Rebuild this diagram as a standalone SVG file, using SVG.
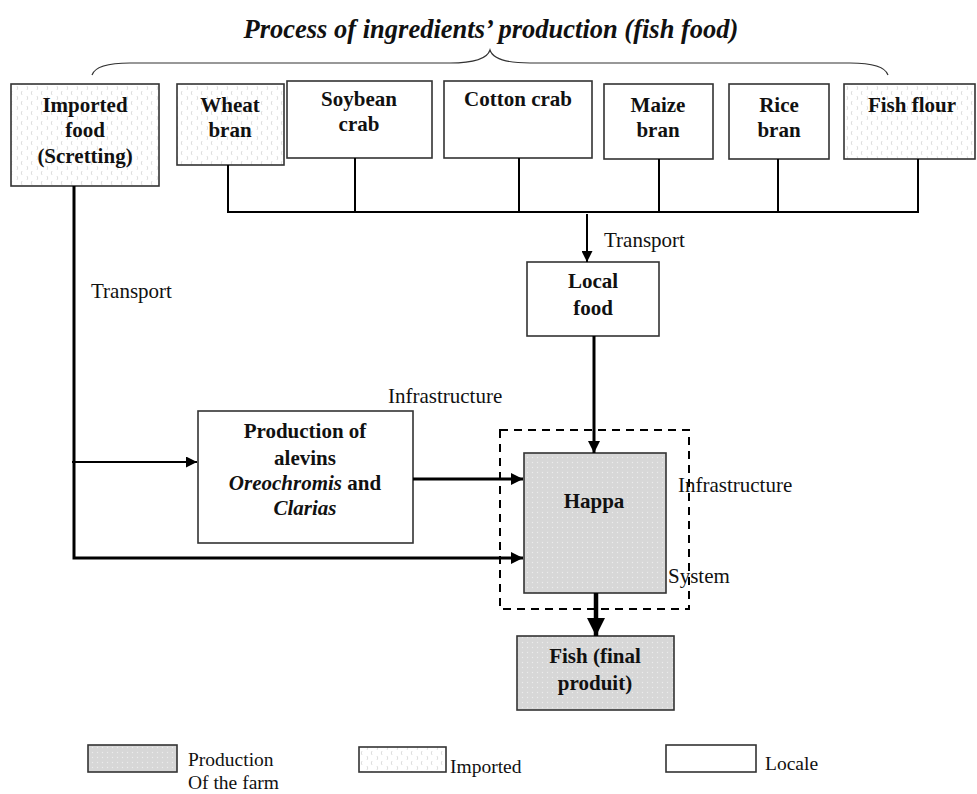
<svg xmlns="http://www.w3.org/2000/svg" width="977" height="794" viewBox="0 0 977 794">
<style>
.box{stroke:#333;stroke-width:1.6}
.loc{fill:#fff}
.imp{fill:url(#impPat)}
.prod{fill:url(#prodPat)}
.bt{font-family:"Liberation Serif","Times New Roman",serif;font-weight:bold;font-size:21px;fill:#111;text-anchor:middle}
.lt{font-family:"Liberation Serif","Times New Roman",serif;font-size:21px;fill:#111}
.lg{font-family:"Liberation Serif","Times New Roman",serif;font-size:19.5px;fill:#111}
.ln{stroke:#000;fill:none}
</style>
<defs>
<pattern id="impPat" width="10" height="10" patternUnits="userSpaceOnUse">
<rect width="10" height="10" fill="#fff"/>
<path d="M2 1 q-1.5 2 0 4 M7 6 q1.5 2 0 4" stroke="#d4d4d4" stroke-width="0.8" fill="none"/>
</pattern>
<pattern id="prodPat" width="5" height="5" patternUnits="userSpaceOnUse">
<rect width="5" height="5" fill="#d7d7d7"/>
<circle cx="2.5" cy="2.5" r="0.7" fill="#ececec"/>
</pattern>
<marker id="ah" viewBox="0 0 10 10" refX="10" refY="5" markerWidth="6" markerHeight="5.5" markerUnits="strokeWidth" orient="auto">
<path d="M0 0 L10 5 L0 10 z" fill="#000"/>
</marker>
<marker id="ah3" viewBox="0 0 10 10" refX="10" refY="5" markerWidth="4" markerHeight="4" markerUnits="strokeWidth" orient="auto">
<path d="M0 0 L10 5 L0 10 z" fill="#000"/>
</marker>
</defs>
<rect width="977" height="794" fill="#fff"/>

<text x="491" y="38" text-anchor="middle" font-family="Liberation Serif, Times New Roman, serif" font-weight="bold" font-style="italic" font-size="26.5" fill="#111">Process of ingredients’ production (fish food)</text>
<path d="M92 75 Q96 63 130 63 L450 63 Q486 63 490 50 Q494 63 530 63 L850 63 Q884 63 888 75" fill="none" stroke="#333" stroke-width="1.2"/>

<g id="imported-food"><rect class="box imp" x="11" y="84" width="148" height="102"/>
<text class="bt" x="85" y="112">Imported</text><text class="bt" x="85" y="137">food</text><text class="bt" x="85" y="163">(Scretting)</text></g>
<g id="wheat-bran"><rect class="box imp" x="177" y="84" width="107" height="81"/>
<text class="bt" x="230" y="112">Wheat</text><text class="bt" x="230" y="137">bran</text></g>
<g id="soybean-crab"><rect class="box loc" x="287" y="81" width="145" height="77"/>
<text class="bt" x="359" y="106">Soybean</text><text class="bt" x="359" y="131">crab</text></g>
<g id="cotton-crab"><rect class="box loc" x="444" y="81" width="148" height="77"/>
<text class="bt" x="518" y="106">Cotton crab</text></g>
<g id="maize-bran"><rect class="box loc" x="604" y="84" width="109" height="75"/>
<text class="bt" x="658" y="112">Maize</text><text class="bt" x="658" y="137">bran</text></g>
<g id="rice-bran"><rect class="box loc" x="729" y="84" width="100" height="75"/>
<text class="bt" x="779" y="112">Rice</text><text class="bt" x="779" y="137">bran</text></g>
<g id="fish-flour"><rect class="box imp" x="844" y="84" width="131" height="75"/>
<text class="bt" x="912" y="112">Fish flour</text></g>

<g id="local-food"><rect class="box loc" x="527" y="262" width="132" height="74"/>
<text class="bt" x="593" y="288">Local</text><text class="bt" x="593" y="315">food</text></g>

<g id="production-alevins"><rect class="box loc" x="198" y="411" width="215" height="132"/>
<text class="bt" x="305" y="438">Production of</text><text class="bt" x="305" y="465">alevins</text>
<text class="bt" x="305" y="490"><tspan font-style="italic">Oreochromis</tspan> and</text>
<text class="bt" x="305" y="515" font-style="italic">Clarias</text></g>

<g id="system"><rect x="500" y="430" width="189" height="179" fill="none" stroke="#000" stroke-width="2" stroke-dasharray="8,6"/></g>

<g id="happa"><rect class="box prod" x="524" y="453" width="142" height="140"/>
<text class="bt" x="594" y="508">Happa</text></g>

<g id="fish"><rect class="box prod" x="517" y="636" width="157" height="74"/>
<text class="bt" x="595" y="663">Fish (final</text><text class="bt" x="595" y="690">produit)</text></g>

<g id="connectors">
<path class="ln" stroke-width="2" d="M228 165 V212 M355 158 V212 M519 158 V212 M659 159 V212 M778 159 V212 M918 159 V212 M227 212 H919"/>
<path class="ln" stroke-width="2" d="M587 214 V262" marker-end="url(#ah)"/>
<path class="ln" stroke-width="3" d="M594 336 V453" marker-end="url(#ah3)"/>
<path class="ln" stroke-width="3" d="M74 186 V558 H523" marker-end="url(#ah3)"/>
<path class="ln" stroke-width="2" d="M72 462 H197" marker-end="url(#ah)"/>
<path class="ln" stroke-width="3" d="M413 479 H523" marker-end="url(#ah3)"/>
<path class="ln" stroke-width="4.5" d="M596 593 V636" marker-end="url(#ah3)"/>
</g>

<g id="labels">
<text class="lt" x="91" y="298">Transport</text>
<text class="lt" x="604" y="247">Transport</text>
<text class="lt" x="388" y="403">Infrastructure</text>
<text class="lt" x="678" y="492">Infrastructure</text>
<text class="lt" x="668" y="583">System</text>
</g>

<g id="legend">
<rect class="box prod" x="88" y="745" width="89" height="27"/>
<text class="lg" x="188" y="766">Production</text>
<text class="lg" x="188" y="789">Of the farm</text>
<rect class="box imp" x="359" y="747" width="87" height="25"/>
<text class="lg" x="450" y="773">Imported</text>
<rect class="box loc" x="666" y="745" width="90" height="27"/>
<text class="lg" x="765" y="770">Locale</text>
</g>
</svg>
